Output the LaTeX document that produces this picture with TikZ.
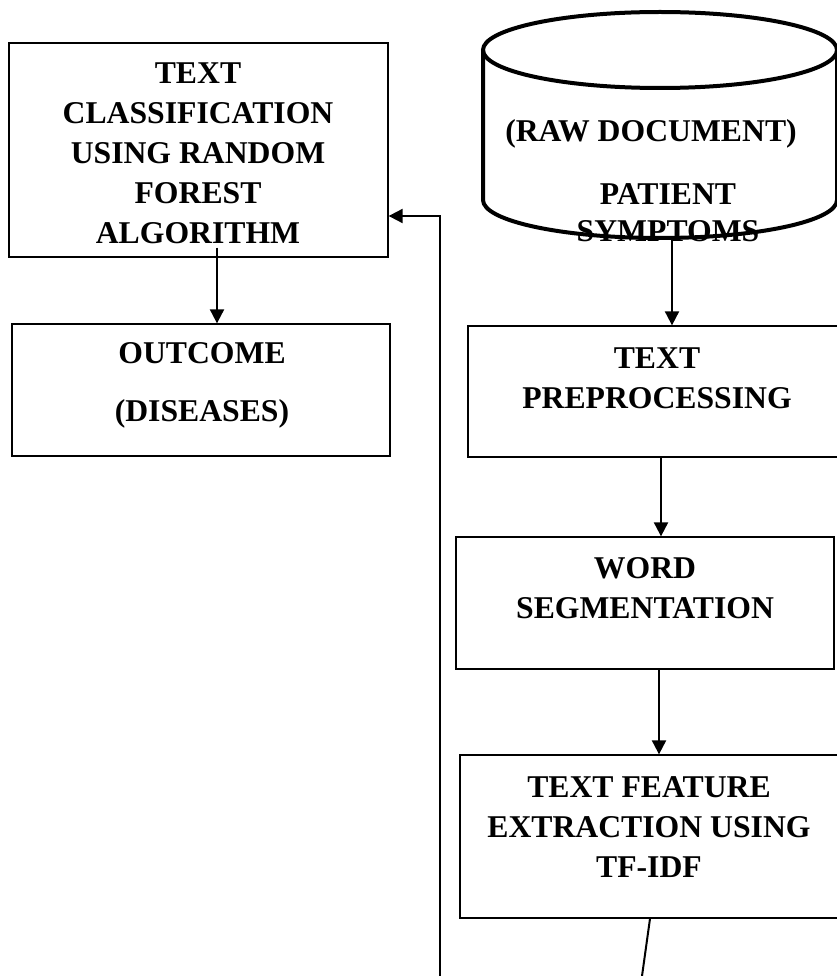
\documentclass[tikz,border=0pt]{standalone}
\usepackage{fontspec}
\setmainfont{Liberation Serif}
\usetikzlibrary{arrows.meta}
\begin{document}
\begin{tikzpicture}[x=1pt,y=-1pt,
  box/.style={draw, line width=1.3pt, inner sep=0pt},
  lbl/.style={font=\bfseries\fontsize{31.7}{40}\selectfont, align=center, inner sep=0pt},
  conn/.style={line width=2pt, -{Triangle[length=14pt,width=14pt]}},
  plainline/.style={line width=2pt},
  dbline/.style={line width=4pt}]
\useasboundingbox (0,0) rectangle (836,976);

% boxes
\node[box, minimum width=379pt, minimum height=214pt] (cls) at (198.5,150) {};
\node[lbl] (clsT) at (198,153) {TEXT\\CLASSIFICATION\\USING RANDOM\\FOREST\\ALGORITHM};

\node[box, minimum width=378pt, minimum height=132pt] (out) at (201,390) {};
\node[lbl, font=\bfseries\fontsize{31.7}{58}\selectfont] (outT) at (202,385) {OUTCOME\\(DISEASES)};

\node[box, minimum width=370pt, minimum height=131pt] (pre) at (653,391.5) {};
\node[lbl] (preT) at (657,378) {TEXT\\PREPROCESSING};

\node[box, minimum width=378pt, minimum height=132pt] (word) at (645,603) {};
\node[lbl] (wordT) at (645,588.5) {WORD\\SEGMENTATION};

\node[box, minimum width=378pt, minimum height=163pt] (feat) at (649,836.5) {};
\node[lbl] (featT) at (649,827.5) {TEXT FEATURE\\EXTRACTION USING\\TF-IDF};

% database cylinder
\node[draw=none, minimum width=354pt, minimum height=226pt, inner sep=0pt] (db) at (660,125) {};
\draw[dbline] (660,50) ellipse[x radius=177, y radius=38];
\draw[dbline] (483,50) -- (483,200) arc[start angle=180, end angle=0, x radius=177, y radius=38] -- (837,50);
\node[lbl] (raw) at (651,134) {(RAW DOCUMENT)};
\node[lbl, font=\bfseries\fontsize{31.7}{37}\selectfont] (pat) at (668,213) {PATIENT\\SYMPTOMS};

% connectors
\coordinate (dbout) at (672,238);
\draw[conn] (dbout) -- (dbout |- pre.north);
\draw[conn] ([xshift=8pt]pre.south) -- ([xshift=8pt]pre.south |- word.north);
\draw[conn] ([xshift=14pt]word.south) -- ([xshift=14pt]word.south |- feat.north);
\draw[conn] ([xshift=18.5pt,yshift=10pt]cls.south) -- ([xshift=18.5pt]cls.south |- out.north);

\coordinate (offA) at (642,976);
\draw[plainline] ([xshift=1pt]feat.south) -- (offA);

\coordinate (offB) at (440,976);
\coordinate (turn) at (440,216);
\draw[conn] (offB) -- (turn) -- (turn -| cls.east);
\end{tikzpicture}
\end{document}
